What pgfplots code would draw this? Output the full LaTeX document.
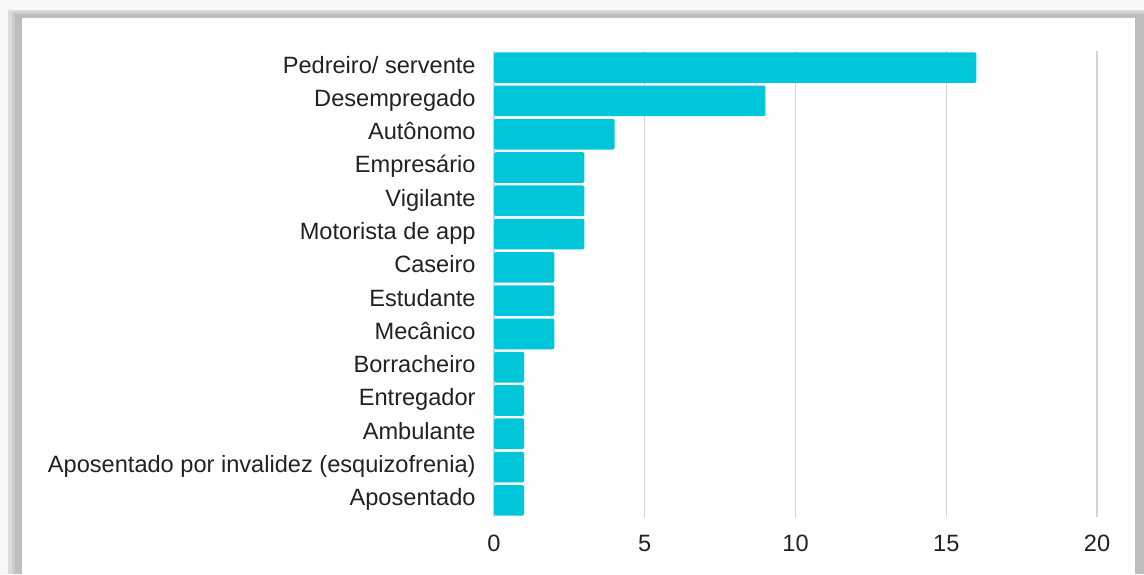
\documentclass[border=0pt]{standalone}
\usepackage{fontspec}
\setmainfont{Liberation Sans}
\usepackage{pgfplots}
\pgfplotsset{compat=1.18}
\definecolor{barcyan}{RGB}{0,198,218}
\definecolor{gridgray}{RGB}{212,212,212}
\definecolor{txt}{RGB}{34,34,34}
% 1 px of the 1144x574 reference = 0.5pt; y measured from the bottom
\newcommand{\px}[2]{({#1*0.5pt},{(574-#2)*0.5pt})}
\begin{document}
\begin{tikzpicture}
  \useasboundingbox \px{0}{574} rectangle \px{1144}{0};
  % screenshot frame with shadow
  \fill[gray!6] \px{0}{574} rectangle \px{1144}{0};
  \fill[gray!28] \px{8}{574} rectangle \px{1144}{10};
  \fill[gray!40] \px{12}{574} rectangle \px{1144}{12};
  \fill[gray!52] \px{15}{574} rectangle \px{1144}{14};
  \fill[white] \px{22}{574} rectangle \px{1135}{18};
  \begin{axis}[
      at={(247pt,28.5pt)}, anchor=south west,
      scale only axis,
      width=301.5pt, height=233pt,
      xbar, bar width=0.92, bar shift=0pt,
      xmin=0, xmax=20, ymin=-0.5, ymax=13.5,
      y dir=reverse,
      axis line style={draw=none},
      major tick length=0pt,
      xmajorgrids,
      grid style={gridgray, line width=0.7pt},
      xtick={0,5,10,15,20},
      ytick={0,...,13},
      yticklabels={Pedreiro/ servente,Desempregado,Autônomo,Empresário,Vigilante,Motorista de app,Caseiro,Estudante,Mecânico,Borracheiro,Entregador,Ambulante,Aposentado por invalidez (esquizofrenia),Aposentado},
      tick label style={font=\fontsize{11.8}{13}\selectfont, text=txt, inner sep=0pt},
      yticklabel style={anchor=east, xshift=-9pt, text height=0.74em, text depth=0.2em},
      xticklabel style={anchor=north, yshift=-9pt},
      /pgf/number format/assume math mode=true,
    ]
    \addplot[fill=barcyan, draw=none, rounded corners=1pt] coordinates {
      (16,0) (9,1) (4,2) (3,3) (3,4) (3,5) (2,6)
      (2,7) (2,8) (1,9) (1,10) (1,11) (1,12) (1,13)};
  \end{axis}
\end{tikzpicture}
\end{document}
